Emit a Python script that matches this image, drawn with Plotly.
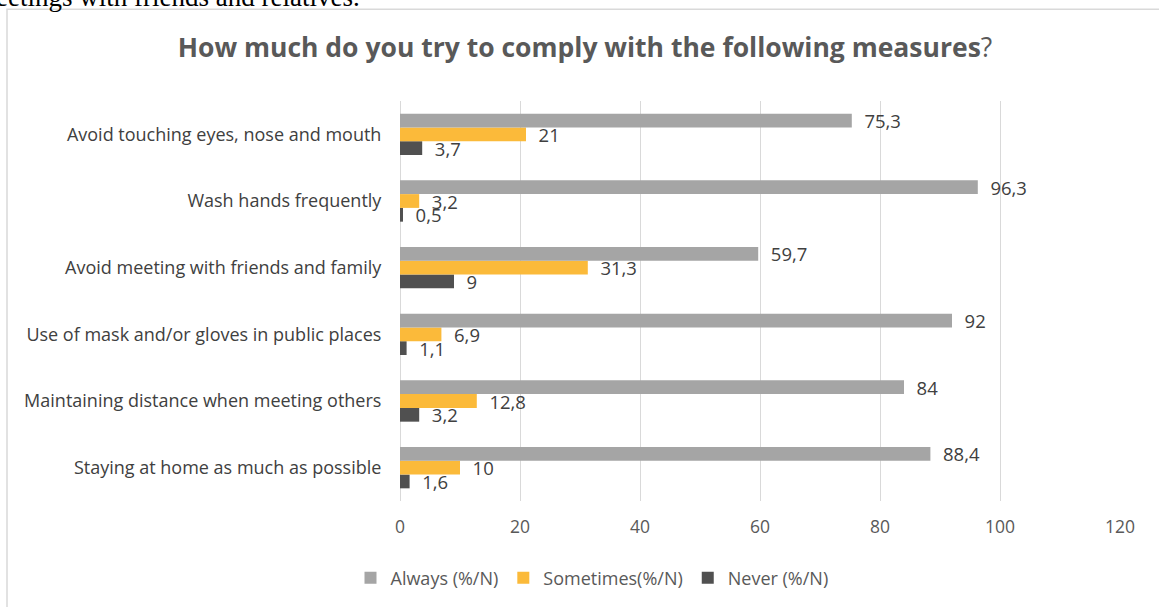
import plotly.graph_objects as go

categories = [
    "Avoid touching eyes, nose and mouth",
    "Wash hands frequently",
    "Avoid meeting with friends and family",
    "Use of mask and/or gloves in public places",
    "Maintaining distance when meeting others",
    "Staying at home as much as possible",
]
always = [75.3, 96.3, 59.7, 92, 84, 88.4]
sometimes = [21, 3.2, 31.3, 6.9, 12.8, 10]
never = [3.7, 0.5, 9, 1.1, 3.2, 1.6]
series_names = ["Always (%/N)", "Sometimes(%/N)", "Never (%/N)"]
x_ticks = [0, 20, 40, 60, 80, 100, 120]

FONT = "Open Sans"
W, H = 1159, 607
ML, MR, MT, MB = 400, 39, 101, 105

def fmt(v):
    s = ("%g" % v).replace(".", ",")
    return "\u00a0\u00a0" + s

fig = go.Figure()
# add in reverse so that "Always" sits on top of each group
for name, vals, col in [
    (series_names[2], never, "#505050"),
    (series_names[1], sometimes, "#FBBA3A"),
    (series_names[0], always, "#A5A5A5"),
]:
    fig.add_trace(go.Bar(
        y=categories, x=vals, orientation="h", name=name,
        marker=dict(color=col, line=dict(width=0)),
        text=[fmt(v) for v in vals], textposition="outside",
        textfont=dict(family=FONT, size=18.5, color="#404040"),
        constraintext="none", cliponaxis=False, hoverinfo="skip",
    ))

pw = W - ML - MR
ph = H - MT - MB

def px_x(p):
    return (p - ML) / pw

def px_y(p):
    return (H - MB - p) / ph

fig.update_layout(
    width=W, height=H,
    margin=dict(l=ML, r=MR, t=MT, b=MB),
    paper_bgcolor="white", plot_bgcolor="white",
    barmode="group", bargap=0.38, bargroupgap=0,
    hovermode=False,
    font=dict(family=FONT, color="#595959"),
    title=dict(
        text="<b>How much do you try to comply with the following measures</b>?",
        x=585 / W, xanchor="center", y=1 - 48 / H, yanchor="middle",
        font=dict(family=FONT, size=26.5, color="#595959"),
    ),
    xaxis=dict(
        range=[0, 120], tickvals=x_ticks, ticktext=[str(t) for t in x_ticks],
        showgrid=True, gridcolor="#D9D9D9", gridwidth=1,
        zeroline=True, zerolinecolor="#D9D9D9", zerolinewidth=1,
        showline=False, ticks="outside", ticklen=10, tickcolor="rgba(0,0,0,0)",
        tickfont=dict(family=FONT, size=17.5, color="#595959"),
        fixedrange=True,
    ),
    yaxis=dict(
        categoryorder="array", categoryarray=categories[::-1],
        showgrid=False, showline=False, ticks="outside", ticklen=14,
        tickcolor="rgba(0,0,0,0)",
        tickfont=dict(family=FONT, size=18, color="#404040"),
        fixedrange=True,
    ),
    legend=dict(
        orientation="h", traceorder="reversed",
        x=px_x(592), xanchor="center", y=px_y(578), yanchor="middle",
        font=dict(family=FONT, size=18, color="#595959"),
        itemwidth=30,
    ),
    shapes=[dict(
        type="rect", xref="paper", yref="paper",
        x0=px_x(7), x1=px_x(W + 30), y0=px_y(H + 30), y1=px_y(9),
        line=dict(color="#D9D9D9", width=1.5), fillcolor="rgba(0,0,0,0)", layer="below",
    )],
    annotations=[dict(
        text="eetings with friends and relatives.", xref="paper", yref="paper",
        x=px_x(-6), xanchor="left", y=px_y(-3), yanchor="middle",
        showarrow=False, font=dict(family="Liberation Serif", size=27, color="black"),
    )],
)

fig.write_html(
    "out.html",
    config={"displayModeBar": False, "staticPlot": True},
    post_script="document.body.style.margin='0';",
)
